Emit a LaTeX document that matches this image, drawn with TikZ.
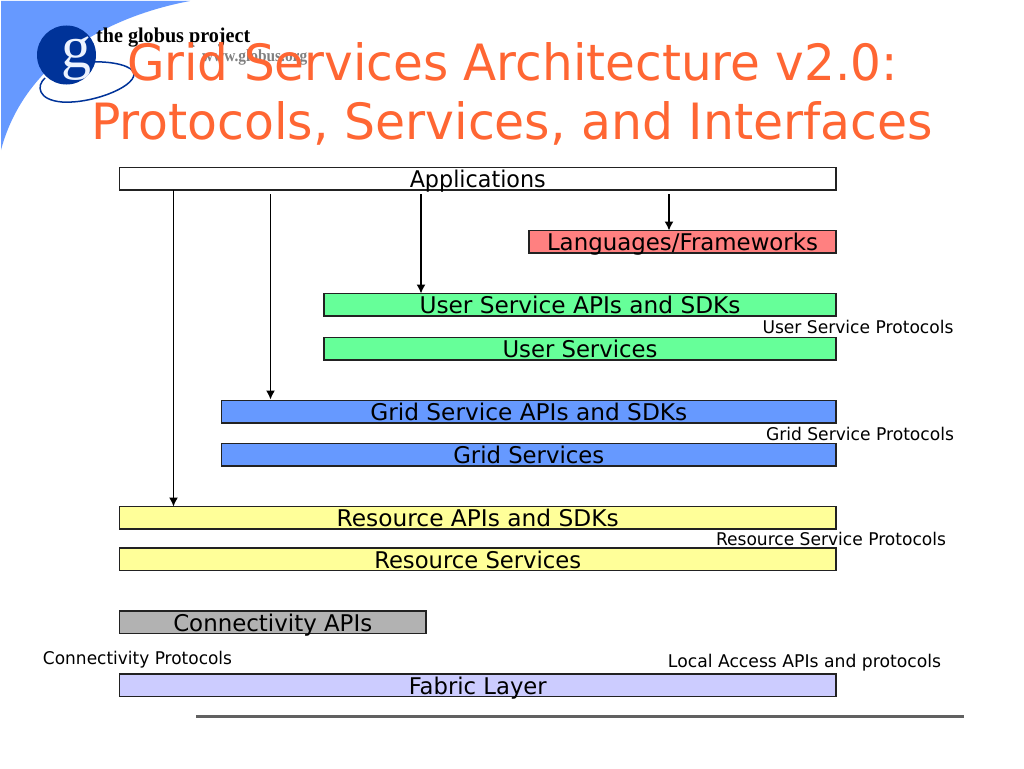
\documentclass[tikz,border=0pt]{standalone}
\usepackage{fontspec}
\usepackage{graphicx}
\setmainfont{DejaVu Sans}
\newfontfamily\logofont{Liberation Serif}
\usetikzlibrary{arrows.meta,calc}
\definecolor{titleor}{HTML}{FF6633}
\definecolor{swoosh}{HTML}{6699FF}
\definecolor{logoblue}{HTML}{003399}
\definecolor{cred}{HTML}{FF8080}
\definecolor{cgreen}{HTML}{66FF99}
\definecolor{cblue}{HTML}{6699FF}
\definecolor{cyellow}{HTML}{FFFF99}
\definecolor{cgray}{HTML}{B2B2B2}
\definecolor{cviolet}{HTML}{CCCCFF}
\definecolor{ink}{HTML}{222222}
\newcommand{\fw}[2]{\resizebox{#1pt}{\height}{#2}}
\tikzset{
  layerbox/.style={draw=ink,line width=1.2pt,inner sep=0pt,outer sep=0pt,anchor=south west},
  layertext/.style={inner sep=0pt,text=black,font=\fontsize{23}{25}\selectfont,anchor=base},
  protolabel/.style={inner sep=0pt,text=black,font=\fontsize{17.5}{20}\selectfont},
  titlelabel/.style={inner sep=0pt,text=titleor,font=\fontsize{50}{58}\selectfont},
  arrowline/.style={draw=black,line width=1.4pt,-{Latex[length=9pt,width=9pt]}}
}
% name, x1, ytop, x2, ybot, fill, text width, text
\newcommand{\layer}[8]{%
  \node[layerbox,fill=#6,minimum width=#4pt-#2pt,minimum height=#5pt-#3pt] (#1) at (#2,#5) {};
  \node[layertext] (#1t) at ($(#1.south)+(0,-2.2)$) {\fw{#7}{#8}};}
\begin{document}
\begin{tikzpicture}[x=1pt,y=-1pt]
\useasboundingbox (0,0) rectangle (1024,768);
\fill[white] (0,0) rectangle (1024,768);
% swoosh
\fill[swoosh] (1,1) -- (190,1) .. controls (110,16) and (25,60) .. (1,150) -- cycle;
% logo
\draw[logoblue,line width=1.5pt] (45,78) .. controls (36,86) and (38,100) .. (62,102) .. controls (90,104) and (134,88) .. (134,74) .. controls (134,66) and (112,61) .. (92,62);
\fill[logoblue] (66.5,55) circle (29.5);
\node[inner sep=0pt,text=white!88!swoosh,font=\logofont\fontsize{60}{62}\selectfont] (logog) at (76,59) {g};
\node[inner sep=0pt,anchor=west,text=black,font=\logofont\bfseries\fontsize{21}{23}\selectfont] (logotext) at (96,38) {\fw{154}{the globus project}};
\node[inner sep=0pt,anchor=west,text=gray,font=\logofont\bfseries\fontsize{17}{18}\selectfont] (logourl) at (202,57) {\fw{105}{www.globus.org}};
% title
\node[titlelabel,anchor=base] (t1) at (512.5,80) {\fw{771}{Grid Services Architecture v2.0:}};
\node[titlelabel,anchor=base] (t2) at (512,139) {\fw{842}{Protocols, Services, and Interfaces}};
% boxes
\layer{apps}{119.5}{167.5}{836}{190}{white}{136}{Applications}
\layer{lang}{529}{230.5}{836}{253}{cred}{271}{Languages/Frameworks}
\layer{usapi}{324}{293.5}{836}{316}{cgreen}{321}{User Service APIs and SDKs}
\layer{us}{324}{337.5}{836}{360}{cgreen}{155}{User Services}
\layer{gsapi}{221.5}{400.5}{836}{423}{cblue}{317}{Grid Service APIs and SDKs}
\layer{gs}{221.5}{443.5}{836}{466}{cblue}{151}{Grid Services}
\layer{rapi}{119.5}{506.5}{836}{529}{cyellow}{282}{Resource APIs and SDKs}
\layer{rs}{119.5}{548}{836}{570.5}{cyellow}{207}{Resource Services}
\layer{capi}{119.5}{611}{426}{633.5}{cgray}{199}{Connectivity APIs}
\layer{fab}{119.5}{674}{836}{696.5}{cviolet}{138}{Fabric Layer}
% labels
\node[protolabel] (pu) at (858,327) {\fw{191}{User Service Protocols}};
\node[protolabel] (pg) at (860,434) {\fw{188}{Grid Service Protocols}};
\node[protolabel] (pr) at (831,539) {\fw{230}{Resource Service Protocols}};
\node[protolabel] (pc) at (137.5,660) {\fw{189}{Connectivity Protocols}};
\node[protolabel] (pl) at (804.5,663) {\fw{273}{Local Access APIs and protocols}};
% arrows
\coordinate (a1) at (173.5,190);
\coordinate (a2) at (270.5,194);
\coordinate (a3) at (421,194);
\coordinate (a4) at (669,194);
\coordinate (g2) at (270.5,399.5);
\draw[arrowline] (a1) -- (rapi.north -| a1);
\draw[arrowline] (a2) -- (g2);
\draw[arrowline] (a3) -- (usapi.north -| a3);
\draw[arrowline] (a4) -- (lang.north -| a4);
% footer rule
\coordinate (r1) at (196,716.5);
\coordinate (r2) at (964,716.5);
\draw[draw=black!62,line width=2.4pt] (r1) -- (r2);
\end{tikzpicture}
\end{document}
